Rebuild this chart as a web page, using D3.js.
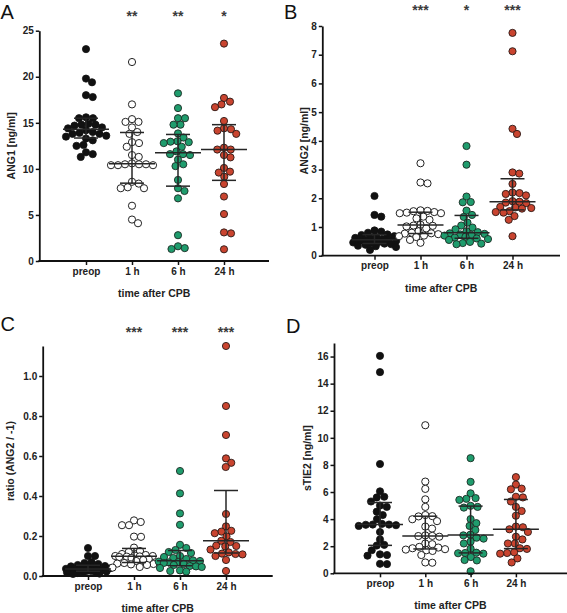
<!DOCTYPE html>
<html><head><meta charset="utf-8">
<script src="https://cdn.jsdelivr.net/npm/d3@7"></script>
<style>
body{margin:0;background:#fff}
svg{display:block}
text{font-family:"Liberation Sans",Arial,Helvetica,sans-serif}
</style>
</head><body>
<svg id="chart" width="567" height="613"></svg>
<script>
// ---------- data ----------
const categories = ["preop", "1 h", "6 h", "24 h"];

// Panel A: ANG1 [ng/ml]
const ang1Preop = [23.0, 19.8, 19.4, 18.0, 17.8, 15.6, 15.5, 15.5, 14.9, 14.8, 14.8, 14.7, 14.5, 14.4, 14.2, 14.0, 13.9, 13.8, 13.8, 13.6, 13.5, 13.3, 13.1, 12.6, 12.5, 11.8, 11.6, 11.3];
const ang1H1 = [21.6, 17.0, 15.4, 15.1, 15.1, 14.5, 14.0, 13.8, 12.9, 12.8, 12.4, 11.5, 11.3, 10.6, 10.5, 10.5, 10.5, 10.4, 10.4, 10.4, 8.6, 8.4, 8.0, 7.9, 7.9, 6.0, 4.5, 4.1];
const ang1H6 = [18.2, 16.6, 15.5, 15.5, 14.8, 14.8, 13.85, 13.4, 13.0, 12.95, 12.9, 12.8, 12.4, 11.9, 11.6, 11.6, 11.5, 11.0, 10.5, 10.3, 8.8, 7.9, 7.6, 6.8, 2.8, 1.6, 1.4, 1.3];
const ang1H24 = [23.6, 17.7, 17.3, 17.0, 16.7, 15.2, 14.4, 14.3, 14.15, 13.8, 12.3, 12.1, 12.1, 11.5, 11.25, 10.1, 9.7, 9.6, 9.15, 8.36, 7.0, 5.1, 3.1, 3.0, 1.27];

// Panel B: ANG2 [ng/ml]
const ang2Preop = [2.08, 1.42, 1.36, 0.88, 0.84, 0.80, 0.74, 0.72, 0.68, 0.65, 0.62, 0.60, 0.58, 0.56, 0.55, 0.53, 0.52, 0.50, 0.48, 0.46, 0.44, 0.42, 0.40, 0.38, 0.35, 0.33, 0.30, 0.20];
const ang2H1 = [3.22, 2.55, 2.52, 1.58, 1.56, 1.55, 1.52, 1.50, 1.48, 1.48, 1.36, 1.30, 1.25, 1.08, 1.05, 1.04, 1.02, 0.95, 0.85, 0.80, 0.78, 0.77, 0.75, 0.70, 0.68, 0.65, 0.55, 0.45];
const ang2H6 = [3.82, 3.17, 2.06, 1.87, 1.86, 1.57, 1.42, 1.35, 1.15, 1.05, 0.98, 0.92, 0.85, 0.82, 0.78, 0.76, 0.74, 0.72, 0.70, 0.66, 0.63, 0.60, 0.58, 0.55, 0.48, 0.44, 0.42, 0.40];
const ang2H24 = [7.76, 7.12, 4.42, 4.24, 2.90, 2.86, 2.50, 2.20, 2.18, 2.15, 2.10, 1.90, 1.88, 1.85, 1.83, 1.70, 1.68, 1.66, 1.64, 1.55, 1.52, 1.50, 1.38, 1.25, 0.68];

// Panel C: ratio (ANG2 / -1)
const ratioPreop = [0.14, 0.10, 0.10, 0.07, 0.065, 0.06, 0.055, 0.05, 0.048, 0.045, 0.042, 0.04, 0.038, 0.036, 0.035, 0.033, 0.032, 0.03, 0.028, 0.026, 0.025, 0.023, 0.022, 0.02, 0.018, 0.015, 0.012, 0.01];
const ratioH1 = [0.278, 0.27, 0.254, 0.254, 0.197, 0.196, 0.142, 0.125, 0.12, 0.11, 0.105, 0.102, 0.10, 0.10, 0.098, 0.097, 0.095, 0.09, 0.085, 0.08, 0.075, 0.065, 0.062, 0.06, 0.058, 0.055, 0.045, 0.042];
const ratioH6 = [0.525, 0.413, 0.313, 0.256, 0.156, 0.14, 0.13, 0.12, 0.115, 0.10, 0.095, 0.09, 0.085, 0.078, 0.075, 0.072, 0.07, 0.068, 0.065, 0.06, 0.055, 0.05, 0.048, 0.045, 0.04, 0.028, 0.025, 0.022];
const ratioH24 = [1.15, 0.85, 0.705, 0.588, 0.566, 0.545, 0.31, 0.248, 0.226, 0.222, 0.214, 0.198, 0.176, 0.17, 0.152, 0.15, 0.148, 0.132, 0.118, 0.112, 0.11, 0.108, 0.1, 0.08, 0.025];

// Panel D: sTIE2 [ng/ml]
const stie2Preop = [16.05, 14.85, 8.07, 6.05, 5.65, 5.6, 5.3, 5.0, 4.9, 4.55, 4.3, 4.0, 3.65, 3.6, 3.6, 3.58, 3.55, 3.5, 3.05, 2.5, 2.1, 2.05, 1.7, 1.4, 1.35, 1.3, 0.7, 0.68];
const stie2H1 = [10.93, 6.77, 6.23, 5.46, 4.9, 4.3, 4.22, 4.2, 3.99, 3.85, 3.45, 3.3, 2.8, 2.76, 2.75, 2.7, 2.2, 2.15, 1.95, 1.9, 1.85, 1.78, 1.75, 1.7, 1.65, 1.35, 0.8, 0.78];
const stie2H6 = [8.5, 6.75, 5.9, 5.55, 5.5, 5.42, 4.98, 4.9, 4.85, 4.0, 3.7, 3.5, 3.2, 2.85, 2.8, 2.63, 2.56, 2.34, 2.2, 1.82, 1.52, 1.5, 1.48, 1.45, 1.2, 0.98, 0.95, 0.15];
const stie2H24 = [7.1, 6.55, 6.25, 6.2, 5.65, 5.6, 5.3, 4.9, 4.6, 4.25, 3.45, 3.4, 3.25, 3.05, 2.7, 2.5, 2.2, 2.2, 1.85, 1.8, 1.55, 1.5, 1.45, 1.1, 0.8];

// tick labels
const ang1Ticks = [0, 5, 10, 15, 20, 25];
const ang2Ticks = [0, 1, 2, 3, 4, 5, 6, 7, 8];
const ratioTicks = [0, 0.2, 0.4, 0.6, 0.8, 1.0];
const stie2Ticks = [0, 2, 4, 6, 8, 10, 12, 14, 16];

// significance labels
const ang1Stars = ["", "**", "**", "*"];
const ang2Stars = ["", "***", "*", "***"];
const ratioStars = ["", "***", "***", "***"];
const stie2Stars = ["", "", "", ""];

const xTitle = "time after CPB";

// ---------- styles / layout ----------
const groupStyle = [
  {fill: "#111111", stroke: "#111111", sw: 0.8},
  {fill: "#ffffff", stroke: "#222222", sw: 1.0},
  {fill: "#1f9c6d", stroke: "#1d2a24", sw: 0.9},
  {fill: "#c9442f", stroke: "#2a1a16", sw: 0.9}
];
const R = 3.6;
const MAX_OFF = 22;

const panels = [
  {letter: "A", lx: 0.5, ly: 18.5, title: "ANG1 [ng/ml]", titleX: 11.7,
   groups: [ang1Preop, ang1H1, ang1H6, ang1H24], ticks: ang1Ticks, fmt: d3.format("d"),
   stars: ang1Stars, starY: 21, domain: [0, 25], yb: 261, yt: 30.7,
   x0: 39.3, x1: 269, cx0: 86, dx: 46},
  {letter: "B", lx: 284, ly: 18.5, title: "ANG2 [ng/ml]", titleX: 304.7,
   groups: [ang2Preop, ang2H1, ang2H6, ang2H24], ticks: ang2Ticks, fmt: d3.format("d"),
   stars: ang2Stars, starY: 15, domain: [0, 8], yb: 255.7, yt: 26,
   x0: 322.3, x1: 560, cx0: 374.5, dx: 46},
  {letter: "C", lx: 0.5, ly: 331.3, title: "ratio (ANG2 / -1)", titleX: 10.7,
   groups: [ratioPreop, ratioH1, ratioH6, ratioH24], ticks: ratioTicks, fmt: d3.format(".1f"),
   stars: ratioStars, starY: 337, domain: [0, 1.15], yb: 576, yt: 346,
   x0: 42.7, x1: 272.7, cx0: 88, dx: 46},
  {letter: "D", lx: 286, ly: 332.7, title: "sTIE2 [ng/ml]", titleX: 307,
   groups: [stie2Preop, stie2H1, stie2H6, stie2H24], ticks: stie2Ticks, fmt: d3.format("d"),
   stars: stie2Stars, starY: 0, domain: [0, 17], yb: 573.3, yt: 343,
   x0: 334, x1: 567, cx0: 380, dx: 45.3}
];

// Prism-style quantile ((n+1)p, interpolated)
function prismQuantile(vals, p) {
  const s = vals.slice().sort((a, b) => a - b);
  const n = s.length;
  let pos = p * (n + 1);
  if (pos <= 1) return s[0];
  if (pos >= n) return s[n - 1];
  const lo = Math.floor(pos), f = pos - lo;
  return s[lo - 1] + f * (s[lo] - s[lo - 1]);
}

// deterministic beeswarm offsets (width-capped, overlap allowed when crowded)
function swarm(ys, r) {
  const order = d3.range(ys.length).sort((a, b) => ys[a] - ys[b]);
  const placed = [];
  const offs = new Array(ys.length).fill(0);
  for (const i of order) {
    const y = ys[i];
    let d = 2 * r * 0.95, done = false;
    while (!done) {
      for (let k = 0; k < 2 * MAX_OFF * 4 + 2; k++) {
        const mag = Math.ceil(k / 2) * 0.25;
        if (mag > MAX_OFF) break;
        const off = (k % 2 === 1) ? mag : -mag;
        let ok = true;
        for (const p of placed) {
          const dy = p.y - y, dxx = p.x - off;
          if (dy * dy + dxx * dxx < d * d) { ok = false; break; }
        }
        if (ok) { offs[i] = off; placed.push({x: off, y}); done = true; break; }
      }
      d *= 0.9;
      if (d < 0.5 && !done) { placed.push({x: 0, y}); done = true; }
    }
  }
  return offs;
}

const svg = d3.select("#chart");
svg.append("rect").attr("width", 567).attr("height", 613).attr("fill", "#fff");

panels.forEach(P => {
  const g = svg.append("g");
  const y = d3.scaleLinear().domain(P.domain).range([P.yb, P.yt]);
  const x = d3.scaleLinear().domain([0, 1]).range([P.cx0, P.cx0 + P.dx]);

  // panel letter
  g.append("text").attr("x", P.lx).attr("y", P.ly)
    .attr("font-size", 20).attr("fill", "#111").text(P.letter);

  // points
  P.groups.forEach((vals, gi) => {
    const ys = vals.map(v => y(v));
    const offs = swarm(ys, R);
    const st = groupStyle[gi];
    g.append("g").selectAll("circle").data(vals).join("circle")
      .attr("cx", (v, i) => x(gi) + offs[i])
      .attr("cy", v => y(v))
      .attr("r", R)
      .attr("fill", st.fill)
      .attr("stroke", st.stroke)
      .attr("stroke-width", st.sw);
  });

  // median + IQR
  P.groups.forEach((vals, gi) => {
    const med = prismQuantile(vals, 0.5);
    const q1 = prismQuantile(vals, 0.25);
    const q3 = prismQuantile(vals, 0.75);
    const cx = x(gi);
    const eg = g.append("g").attr("stroke", "#262626").attr("stroke-width", 1.5).attr("fill", "none");
    eg.append("line").attr("x1", cx).attr("x2", cx).attr("y1", y(q1)).attr("y2", y(q3));
    eg.append("line").attr("x1", cx - 23).attr("x2", cx + 23).attr("y1", y(med)).attr("y2", y(med));
    eg.append("line").attr("x1", cx - 12).attr("x2", cx + 12).attr("y1", y(q3)).attr("y2", y(q3));
    eg.append("line").attr("x1", cx - 12).attr("x2", cx + 12).attr("y1", y(q1)).attr("y2", y(q1));
  });

  // y axis
  const yAxis = d3.axisLeft(y).tickValues(P.ticks).tickFormat(P.fmt)
    .tickSize(3.5).tickSizeOuter(0).tickPadding(2);
  const ya = g.append("g").attr("transform", `translate(${P.x0},0)`).call(yAxis);
  ya.select(".domain").attr("stroke", "#111").attr("stroke-width", 1.8);
  ya.selectAll(".tick line").attr("stroke", "#111").attr("stroke-width", 1.5);
  ya.selectAll(".tick text").attr("font-size", 10).attr("font-weight", "bold")
    .attr("fill", "#222").style("font-family", '"Liberation Sans",Arial,sans-serif');

  // x axis (line spans plot width; ticks at categories)
  g.append("line").attr("x1", P.x0 - 0.9).attr("x2", P.x1)
    .attr("y1", P.yb).attr("y2", P.yb).attr("stroke", "#111").attr("stroke-width", 1.8);
  const xAxis = d3.axisBottom(x).tickValues([0, 1, 2, 3]).tickFormat(i => categories[i])
    .tickSize(4).tickSizeOuter(0).tickPadding(2.5);
  const xa = g.append("g").attr("transform", `translate(0,${P.yb})`).call(xAxis);
  xa.select(".domain").remove();
  xa.selectAll(".tick line").attr("stroke", "#111").attr("stroke-width", 1.5);
  xa.selectAll(".tick text").attr("font-size", 10).attr("font-weight", "bold")
    .attr("fill", "#222").style("font-family", '"Liberation Sans",Arial,sans-serif');

  // axis titles
  g.append("text").attr("x", (P.x0 + P.x1) / 2).attr("y", P.yb + 36)
    .attr("text-anchor", "middle").attr("font-size", 10.5).attr("font-weight", "bold")
    .attr("fill", "#222").text(xTitle);
  const cy = (P.yb + P.yt) / 2;
  g.append("text").attr("transform", `translate(${P.titleX},${cy}) rotate(-90)`)
    .attr("text-anchor", "middle").attr("dy", "0.35em")
    .attr("font-size", 10.5).attr("font-weight", "bold").attr("fill", "#222").text(P.title);

  // significance stars
  g.append("g").selectAll("text").data(P.stars).join("text")
    .attr("x", (s, i) => x(i)).attr("y", P.starY)
    .attr("text-anchor", "middle").attr("font-size", 14).attr("font-weight", "bold")
    .attr("fill", "#3a3a3a").text(s => s);
});
</script>
</body></html>
